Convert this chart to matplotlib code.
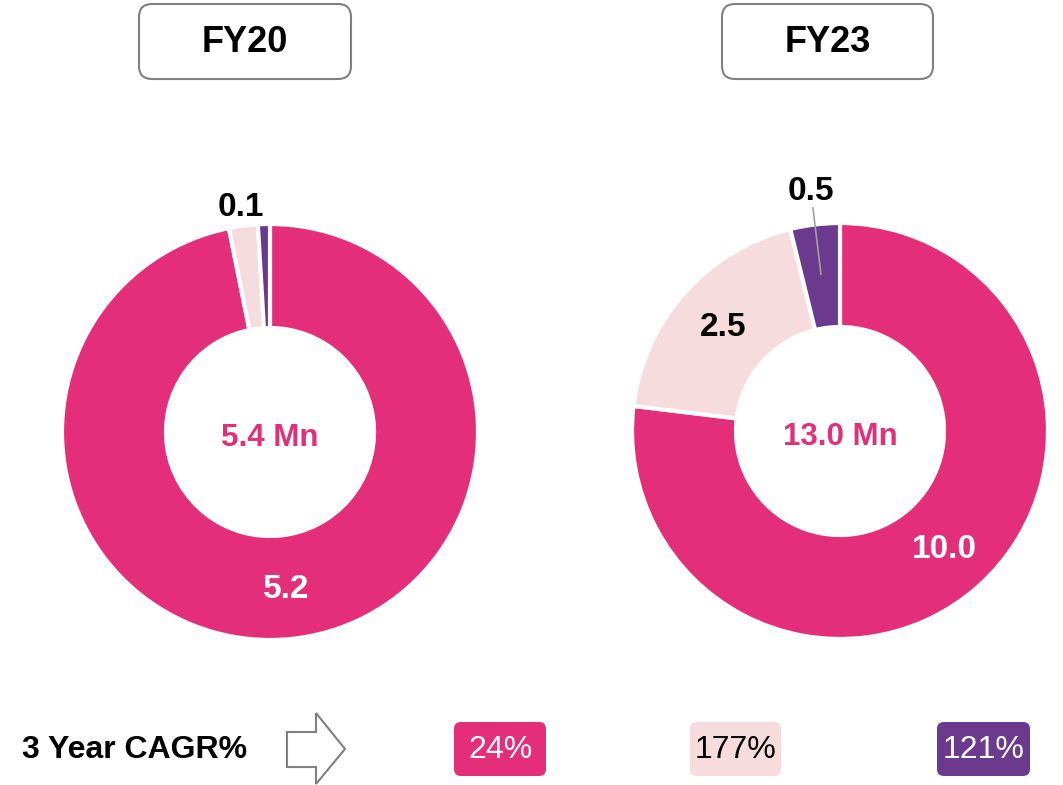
import numpy as np
import matplotlib
matplotlib.use("Agg")
import matplotlib.pyplot as plt
from matplotlib.patches import FancyBboxPatch, Polygon

plt.rcParams['font.family'] = ['Liberation Sans', 'DejaVu Sans']

# --- data ---
years = ["FY20", "FY23"]
segment_colors = ["#E52E7A", "#F6DCDC", "#6B3A8E"]
fy20_values = [5.2, 0.12, 0.05]
fy23_values = [10.0, 2.5, 0.5]
fy20_labels = ["5.2", "0.1", ""]
fy23_labels = ["10.0", "2.5", "0.5"]
totals = ["5.4 Mn", "13.0 Mn"]
cagr_labels = ["24%", "177%", "121%"]
cagr_text_colors = ["white", "black", "white"]

W, H = 1063, 785
fig = plt.figure(figsize=(W / 100, H / 100), dpi=100)

# background axes in pixel coords for boxes and row text
bg = fig.add_axes([0, 0, 1, 1])
bg.set_xlim(0, W)
bg.set_ylim(H, 0)
bg.axis('off')

# year header boxes
for name, (x0, x1) in zip(years, [(139, 351), (722, 933)]):
    box = FancyBboxPatch((x0, 4), x1 - x0, 75, boxstyle="round,pad=0,rounding_size=13",
                         facecolor='white', edgecolor='#808080', linewidth=1.5)
    bg.add_patch(box)
    bg.text((x0 + x1) / 2, 43, name, ha='center', va='center', fontsize=26, fontweight='bold')


def draw_donut(center_px, values, labels, total, leader_idx=None):
    cx, cy = center_px
    r_px = 208
    half = 1.25 * r_px
    ax = fig.add_axes([(cx - half) / W, (H - cy - half) / H, 2 * half / W, 2 * half / H])
    wedges, _ = ax.pie(values, colors=segment_colors, startangle=90, counterclock=False,
                       radius=1.0, wedgeprops=dict(width=0.5, edgecolor='white', linewidth=3))
    ax.set_xlim(-1.25, 1.25)
    ax.set_ylim(-1.25, 1.25)
    ax.set_aspect('equal')
    ax.axis('off')
    for i, (w, lab) in enumerate(zip(wedges, labels)):
        if not lab:
            continue
        mid = np.deg2rad((w.theta1 + w.theta2) / 2)
        if i == 0:
            d, col = 0.76, 'white'
        elif values[i] / sum(values) < 0.05:
            d, col = 1.09, 'black'
        else:
            d, col = 0.75, 'black'
        if i == leader_idx:
            d = 1.16
            ax.plot([0.76 * np.cos(mid), 1.08 * np.cos(mid)],
                    [0.76 * np.sin(mid), 1.08 * np.sin(mid)], color='#A0A0A0', lw=1.2)
        ax.text(d * np.cos(mid), d * np.sin(mid), lab, ha='center', va='center',
                fontsize=24, fontweight='bold', color=col)
    ax.text(0, -0.03, total, ha='center', va='center', fontsize=22.5, fontweight='bold',
            color=segment_colors[0])


draw_donut((270, 432), fy20_values, fy20_labels, totals[0])
draw_donut((840, 431), fy23_values, fy23_labels, totals[1], leader_idx=2)

# bottom CAGR row
bg.text(22, 750, "3 Year CAGR%", ha='left', va='center', fontsize=23, fontweight='bold')
arrow = Polygon([(287, 732), (316, 732), (316, 713), (345, 749), (316, 784), (316, 767), (287, 767)],
                closed=True, facecolor='white', edgecolor='#808080', linewidth=1.5)
bg.add_patch(arrow)

for lab, col, tcol, (x0, x1) in zip(cagr_labels, segment_colors, cagr_text_colors,
                                    [(454, 546), (690, 781), (937, 1030)]):
    box = FancyBboxPatch((x0, 722), x1 - x0, 54, boxstyle="round,pad=0,rounding_size=7",
                         facecolor=col, edgecolor='none')
    bg.add_patch(box)
    bg.text((x0 + x1) / 2, 750, lab, ha='center', va='center', fontsize=23, color=tcol)

fig.savefig("out.png", dpi=100)
